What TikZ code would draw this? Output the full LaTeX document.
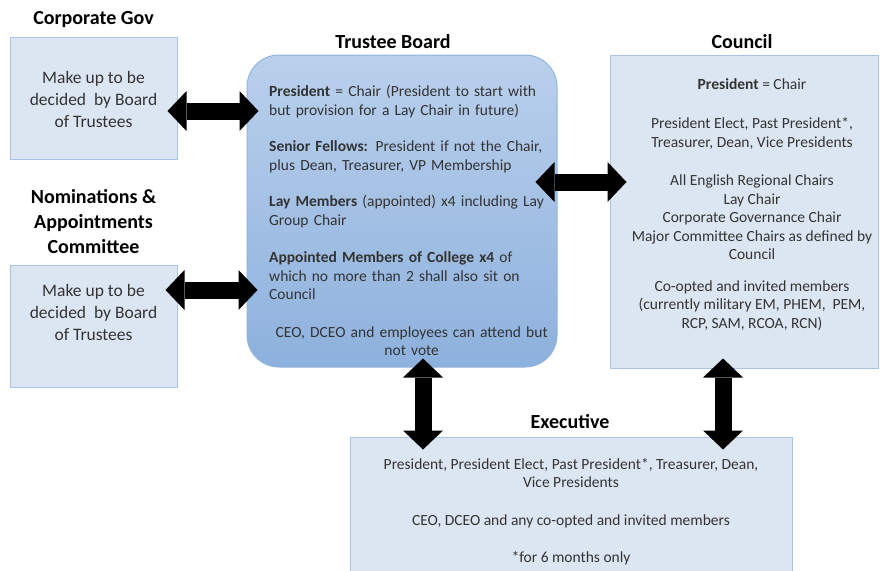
\documentclass[tikz,border=0pt]{standalone}
\usepackage{fontspec}
\setmainfont{Carlito}
\usetikzlibrary{arrows.meta}
\definecolor{boxfill}{HTML}{DCE6F2}
\definecolor{boxedge}{HTML}{A7C4E8}
\definecolor{tbtop}{HTML}{BAD0EC}
\definecolor{tbbot}{HTML}{8DB1DD}
\definecolor{tbedge}{HTML}{8FB4DF}
\definecolor{txt}{HTML}{333333}
\definecolor{glow}{HTML}{2F4F7F}
\tikzset{
  box/.style={draw=boxedge, fill=boxfill, line width=1pt, inner sep=0pt},
  ttl/.style={font=\fontsize{20}{25}\selectfont\bfseries, text=black, align=center, inner sep=0pt},
  bodybig/.style={font=\fontsize{17.5}{22}\selectfont, text=txt, align=center, inner sep=0pt},
  body/.style={font=\fontsize{15.5}{18.5}\selectfont, text=txt, inner sep=0pt},
  dbl/.style={draw=black, line width=17pt,
    {Triangle[length=19pt,width=40pt,line width=0pt]}-{Triangle[length=19pt,width=40pt,line width=0pt]}}
}
\begin{document}
\begin{tikzpicture}[x=1pt,y=-1pt]
\clip (0,0) rectangle (880,570);
\fill[white] (0,0) rectangle (880,570);

% boxes
\node[box, minimum width=167pt, minimum height=122pt] (corp) at (93.5,98) {};
\node[box, minimum width=167pt, minimum height=122pt] (nom) at (93.5,326) {};
\node[draw=tbedge, line width=1pt, rounded corners=32pt, top color=tbtop, bottom color=tbbot,
      minimum width=310pt, minimum height=312pt, inner sep=0pt] (trustee) at (402,211) {};
\node[box, minimum width=268pt, minimum height=313pt] (council) at (744,211.5) {};
\node[box, minimum width=442pt, minimum height=163pt] (exec) at (571,518.5) {};

% titles
\node[ttl] (tcorp) at (93.5,20) {Corporate Gov};
\node[ttl] (tnom) at (93.5,222) {Nominations \&\\Appointments\\Committee};
\node[ttl] (ttrustee) at (393,42) {Trustee Board};
\node[ttl] (tcouncil) at (742,42) {Council};
\node[ttl] (texec) at (570,422) {Executive};

% box texts
\node[bodybig] (corptext) at (93.5,99.5) {Make up to be\\decided~ by Board\\of Trustees};
\node[bodybig] (nomtext) at (93.5,312.5) {Make up to be\\decided~ by Board\\of Trustees};

\node[body, anchor=north west, text width=285pt] (tbtext) at (269,85) {%
{\raggedright \textbf{President} = Chair (President to start with\\
but provision for a Lay Chair in future)\\[18pt]
\textbf{Senior Fellows:} President if not the Chair,\\
plus Dean, Treasurer, VP Membership\\[18pt]
\textbf{Lay Members} (appointed) x4 including Lay\\
Group Chair\\[19pt]
\textbf{Appointed Members of College x4} of\\
which no more than 2 shall also sit on\\
Council\par}
\vspace{19pt}
{\centering CEO, DCEO and employees can attend but\\ not vote\par}};

\node[body, align=center, anchor=north] (ctext) at (752,78) {%
\textbf{President} = Chair\\[21pt]
President Elect, Past President*,\\
Treasurer, Dean, Vice Presidents\\[20pt]
All English Regional Chairs\\
Lay Chair\\
Corporate Governance Chair\\
Major Committee Chairs as defined by\\
Council\\[13pt]
Co-opted and invited members\\
(currently military EM, PHEM,~ PEM,\\
RCP, SAM, RCOA, RCN)};

\node[body, align=center, anchor=north] (etext) at (571,458) {%
President, President Elect, Past President*, Treasurer, Dean,\\
Vice Presidents\\[19pt]
CEO, DCEO and any co-opted and invited members\\[19pt]
*for 6 months only};

% arrows
\draw[dbl, shorten <=-10pt, shorten >=-12pt] (corp.east |- 0,111) -- (trustee.west |- 0,111);
\draw[dbl, shorten <=-12pt, shorten >=-11pt] (nom.east |- 0,290) -- (trustee.west |- 0,290);
\draw[dbl, shorten <=-22pt, shorten >=-17pt] (trustee.east |- 0,182) -- (council.west |- 0,182);
\draw[dbl, shorten <=-9pt, shorten >=-13pt] (423,0 |- trustee.south) -- (423,0 |- exec.north);
\draw[dbl, shorten <=-10pt, shorten >=-13pt] (723,0 |- council.south) -- (723,0 |- exec.north);
\end{tikzpicture}
\end{document}
